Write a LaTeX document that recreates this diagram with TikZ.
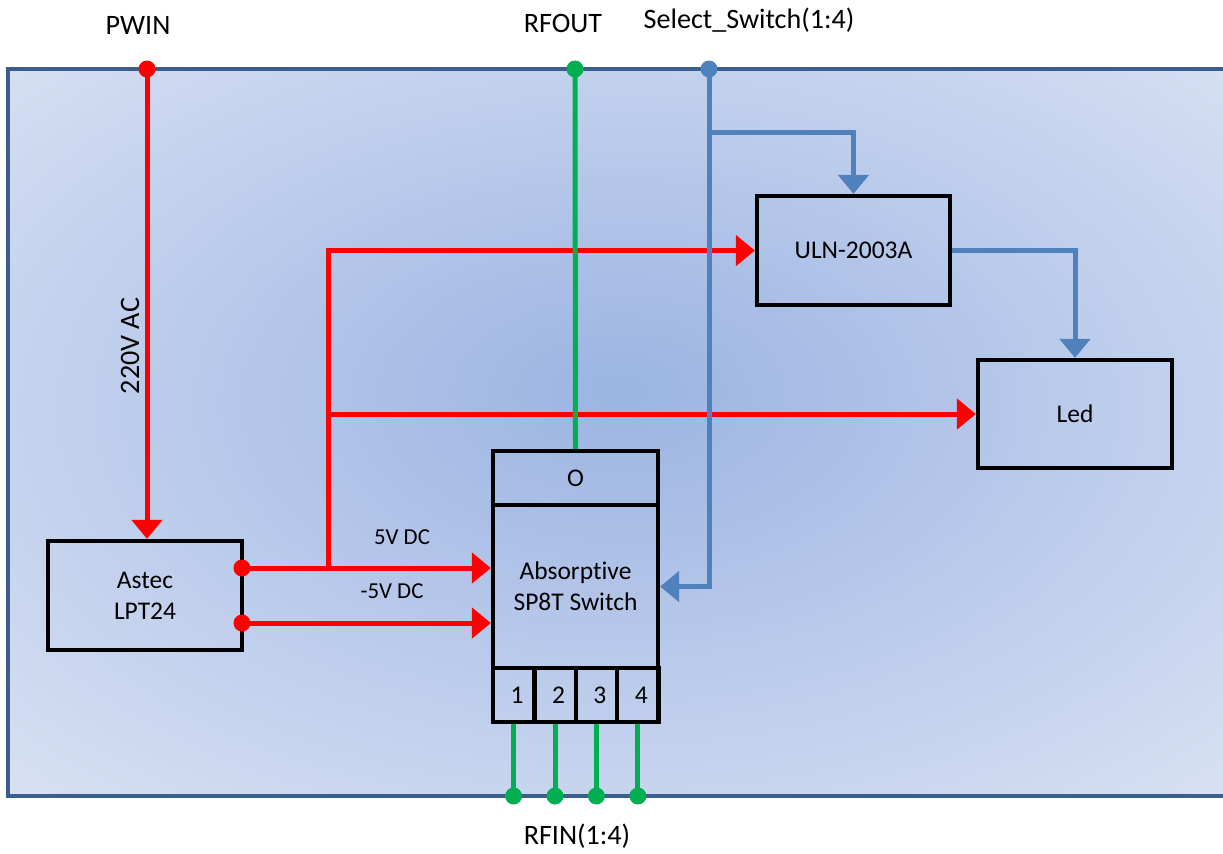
\documentclass[tikz,border=0pt]{standalone}
\usepackage{fontspec}
\setmainfont[Ligatures=NoCommon]{Carlito}
\usetikzlibrary{arrows.meta,calc}
\definecolor{pred}{RGB}{255,0,0}
\definecolor{pgreen}{RGB}{0,176,80}
\definecolor{pblue}{RGB}{79,129,189}
\definecolor{pborder}{RGB}{59,94,140}
\definecolor{bgin}{RGB}{155,180,226}
\definecolor{bgout}{RGB}{226,232,246}
\pgfdeclareradialshading{bgshade}{\pgfpoint{0bp}{3bp}}{color(0bp)=(bgin); color(42bp)=(bgout); color(50bp)=(bgout)}
\tikzset{
  redline/.style={draw=pred, line width=0.1cm},
  greenline/.style={draw=pgreen, line width=0.1cm},
  blueline/.style={draw=pblue, line width=0.1cm},
  tip/.style={-{Triangle[length=0.38cm,width=0.6cm]}},
  blk/.style={draw=black, line width=0.085cm, rectangle, inner sep=0pt, align=center, font=\fontsize{14.5}{17.5}\selectfont},
  lbl/.style={inner sep=0pt, font=\fontsize{16}{19}\selectfont},
  slbl/.style={inner sep=0pt, font=\fontsize{13}{16}\selectfont},
}
\begin{document}
\begin{tikzpicture}[x=0.02cm,y=-0.02cm]
\useasboundingbox (0,0) rectangle (1223,853);
\fill[white] (0,0) rectangle (1223,853);
% panel
\path[shading=bgshade] (8,69) rectangle (1230,796);
\draw[pborder, line width=0.065cm] (1230,69) -- (8,69) -- (8,796) -- (1230,796);

% blocks
\node[blk, minimum width=3.88cm, minimum height=2.18cm] (astec) at (145,595.5) {Astec\\LPT24};
\node[blk, minimum width=3.86cm, minimum height=2.18cm] (uln) at (853.5,250.5) {ULN-2003A};
\node[blk, minimum width=3.88cm, minimum height=2.16cm] (led) at (1075,414) {Led};
\node[blk, minimum width=3.3cm, minimum height=1.08cm] (swo) at (575.5,478) {O};
\node[blk, minimum width=3.3cm, minimum height=3.26cm] (swmain) at (575.5,586.5) {Absorptive\\SP8T Switch};
\node[blk, minimum width=0.825cm, minimum height=1.08cm] (p1) at (513.6,695) {\hspace*{4pt}1};
\node[blk, minimum width=0.825cm, minimum height=1.08cm] (p2) at (555,695) {\hspace*{4pt}2};
\node[blk, minimum width=0.825cm, minimum height=1.08cm] (p3) at (596.4,695) {\hspace*{4pt}3};
\node[blk, minimum width=0.825cm, minimum height=1.08cm] (p4) at (637.9,695) {\hspace*{4pt}4};

% coordinates
\coordinate (pwin) at (147,69);
\coordinate (rfout) at (575,69);
\coordinate (sel) at (709,69);
\coordinate (selj) at (709,132);
\coordinate (a5) at (242,568);
\coordinate (am5) at (242,623);
\coordinate (j5) at (328,568);
\coordinate (rf1) at (513.6,796);
\coordinate (rf2) at (555,796);
\coordinate (rf3) at (596.4,796);
\coordinate (rf4) at (637.9,796);

% red power
\draw[redline, tip] (pwin) -- (pwin |- astec.north);
\draw[redline, tip] (a5) -- (a5 -| swmain.west);
\draw[redline, tip] (am5) -- (am5 -| swmain.west);
\draw[redline, tip] (j5) |- (uln.west);
\draw[redline, tip] (j5) |- (led.west);

% green RF
\draw[greenline] (rfout) -- (swo.north);
\draw[greenline] (p1.south) -- (rf1);
\draw[greenline] (p2.south) -- (rf2);
\draw[greenline] (p3.south) -- (rf3);
\draw[greenline] (p4.south) -- (rf4);

% blue control
\draw[blueline, tip] (sel) |- (swmain.east);
\draw[blueline, tip] (selj) -| (uln.north);
\draw[blueline, tip] (uln.east) -| (led.north);

% dots
\fill[pred] (pwin) circle[radius=0.17cm];
\fill[pred] (a5) circle[radius=0.17cm];
\fill[pred] (am5) circle[radius=0.17cm];
\fill[pgreen] (rfout) circle[radius=0.17cm];
\fill[pblue] (sel) circle[radius=0.17cm];
\foreach \c in {rf1,rf2,rf3,rf4} \fill[pgreen] (\c) circle[radius=0.17cm];

% labels
\node[lbl] (lpwin) at (138,25) {PWIN};
\node[lbl] (lrfout) at (563,23) {RFOUT};
\node[lbl] (lsel) at (749,20) {Select\_Switch(1:4)};
\node[lbl] (lrfin) at (577,836) {RFIN(1:4)};
\node[lbl, rotate=90] (lac) at (130,346) {220V AC};
\node[slbl] (l5) at (402,537) {5V DC};
\node[slbl] (lm5) at (392,591) {-5V DC};
\end{tikzpicture}
\end{document}
